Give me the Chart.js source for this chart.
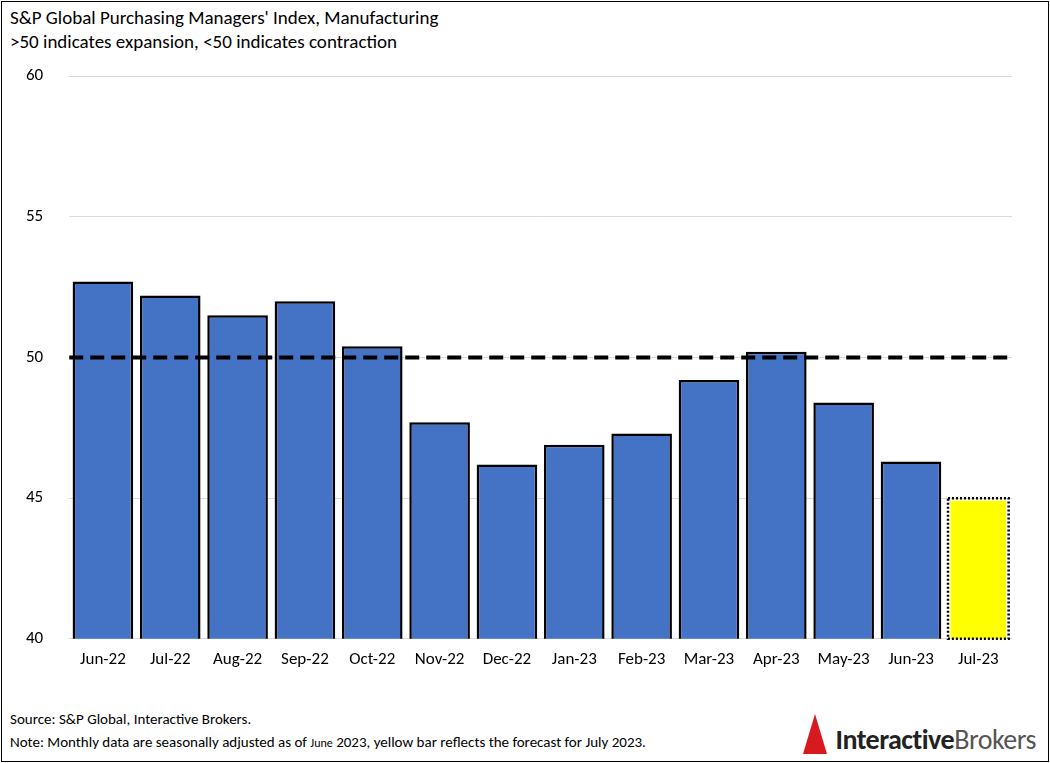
<!DOCTYPE html>
<html lang="en">
<head>
  <meta charset="UTF-8">
  <title>S&P Global PMI, Manufacturing</title>
  <script src="https://cdn.jsdelivr.net/npm/chart.js"></script>
  <style>
    body { margin: 0; background: #fff; font-family: Carlito, Calibri, "Liberation Sans", Arial, sans-serif; }
    .frame { position: absolute; left: 1px; top: 1px; width: 1046px; height: 759px; border: 1px solid #000; }
    .title { position: absolute; left: 10px; top: 6px; font-size: 19px; line-height: 24px; color: #000; }
    .chart { position: absolute; left: 0; top: 40px; width: 1018px; height: 635px; }
    .notes { position: absolute; left: 10px; top: 708px; font-size: 15px; line-height: 23px; color: #000; }
    .logo { position: absolute; right: 14px; top: 722px; font-size: 28px; letter-spacing: -0.5px; color: #222; }
    .logo b { font-weight: bold; }
    .logo span { color: #555; }
    .mark { position: absolute; left: -32px; top: -8px; width: 0; height: 0;
            border-left: 12px solid transparent; border-right: 12px solid transparent; border-bottom: 40px solid #d71920; }
  </style>
</head>
<body>
  <div class="frame"></div>
  <div class="title">S&amp;P Global Purchasing Managers' Index, Manufacturing<br>&gt;50 indicates expansion, &lt;50 indicates contraction</div>
  <div class="chart"><canvas id="c"></canvas></div>
  <div class="notes">Source: S&amp;P Global, Interactive Brokers.<br>Note: Monthly data are seasonally adjusted as of <span style="font-size:12px">June</span> 2023, yellow bar reflects the forecast for July 2023.</div>
  <div class="logo"><div class="mark"></div><b>Interactive</b><span>Brokers</span></div>
  <script>
    const months = ["Jun-22","Jul-22","Aug-22","Sep-22","Oct-22","Nov-22","Dec-22","Jan-23","Feb-23","Mar-23","Apr-23","May-23","Jun-23","Jul-23"];
    const pmi = [52.7, 52.2, 51.5, 52.0, 50.4, 47.7, 46.2, 46.9, 47.3, 49.2, 50.2, 48.4, 46.3, 45.0];
    const threshold = 50;
    const yTicks = [40, 45, 50, 55, 60];

    const lastIdx = pmi.length - 1;

    // dashed 50 line drawn over the bars, dotted border for the forecast bar
    const overlay = {
      id: "overlay",
      afterDatasetsDraw(chart) {
        const { ctx, chartArea, scales } = chart;
        const y = scales.y.getPixelForValue(threshold);
        ctx.save();
        ctx.strokeStyle = "#000";
        ctx.lineWidth = 4;
        ctx.setLineDash([14, 7]);
        ctx.beginPath();
        ctx.moveTo(chartArea.left, y);
        ctx.lineTo(chartArea.right, y);
        ctx.stroke();
        const bar = chart.getDatasetMeta(0).data[lastIdx];
        const bottom = scales.y.getPixelForValue(scales.y.min);
        ctx.lineWidth = 2.5;
        ctx.setLineDash([2, 2]);
        const w = bar.width;
        ctx.strokeRect(bar.x - w / 2, bar.y, w, bottom - bar.y);
        ctx.restore();
      }
    };

    new Chart(document.getElementById("c"), {
      type: "bar",
      data: {
        labels: months,
        datasets: [{
          data: pmi,
          backgroundColor: pmi.map((v, i) => i === lastIdx ? "#ffff00" : "#4472c4"),
          borderColor: pmi.map((v, i) => i === lastIdx ? "rgba(0,0,0,0)" : "#000"),
          borderWidth: 2.5,
          borderSkipped: false,
          categoryPercentage: 1.0,
          barPercentage: 0.9
        }]
      },
      options: {
        responsive: true,
        maintainAspectRatio: false,
        animation: false,
        layout: { padding: { top: 6, right: 6 } },
        plugins: { legend: { display: false }, tooltip: { enabled: false } },
        scales: {
          x: {
            grid: { display: false },
            border: { display: false },
            ticks: { color: "#000", font: { size: 17, family: "Carlito, Calibri, 'Liberation Sans', sans-serif" } }
          },
          y: {
            min: 40, max: 60,
            afterBuildTicks(axis) { axis.ticks = yTicks.map(v => ({ value: v })); },
            grid: { color: "#d9d9d9", drawTicks: false },
            border: { display: false },
            ticks: { color: "#000", padding: 26, font: { size: 17, family: "Carlito, Calibri, 'Liberation Sans', sans-serif" } }
          }
        }
      },
      plugins: [overlay]
    });
  </script>
</body>
</html>
